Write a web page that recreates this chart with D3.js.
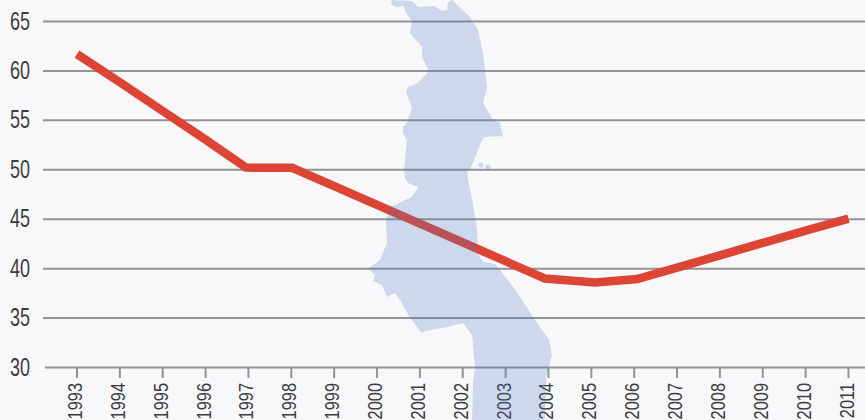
<!DOCTYPE html>
<html><head><meta charset="utf-8">
<script src="https://cdn.jsdelivr.net/npm/d3@7"></script>
<style>html,body{margin:0;padding:0;background:#f8f8fb;overflow:hidden}svg{display:block}
text{font-family:"Liberation Sans",sans-serif;fill:#3c3c40}</style>
</head><body><svg id="c" width="865" height="420"></svg>
<script>
const years=[1993,1994,1995,1996,1997,1998,1999,2000,2001,2002,2003,2004,2005,2006,2007,2008,2009,2010,2011];
const lineYears=[1993,1994,1995,1996,1996.94,1998.02,1999,2000,2001,2002,2003,2003.92,2005.09,2006.07,2007,2008,2009,2010,2011];
const values=[61.7,58.85,55.95,53.05,50.22,50.2,48.35,46.45,44.55,42.65,40.75,39.0,38.6,38.95,40.1,41.35,42.6,43.85,45.05];
const yTicks=[30,35,40,45,50,55,60,65];
// decorative silhouette of the country behind the line (page pixels)
const mapOutline=[[392,0],[391,3],[392,5],[397,7],[403,6],[405,9],[406,13],[412,21],[410,33],[422,47],[422,57],[429,71],[418,83],[408,87],[406,92],[412,108],[407,123],[403,127],[403,133],[407,140],[404,170],[405,178],[408,183],[418,187],[412,197],[390,207],[386,220],[387,243],[380,260],[368,269],[375,275],[373,281],[382,285],[387,297],[395,293],[400,300],[410,318],[422,333],[425,331],[447,327],[463,323],[472,335],[475,367],[473,383],[472,420],[545,420],[546,377],[552,355],[549,340],[533,317],[517,292],[500,270],[495,264],[483,262],[478,253],[477,230],[474,210],[467,173],[472,165],[482,140],[485,137],[503,136],[500,123],[492,118],[483,103],[487,88],[483,53],[478,30],[470,17],[452,0],[448,2],[447,10],[442,11],[435,6],[418,7],[412,1]];
const mapIslands=[[481,165],[488,167]];

const svg=d3.select("#c");
const x=d3.scaleLinear().domain([1993,2011]).range([77,848.5]);
const y=d3.scaleLinear().domain([30,65]).range([367.5,21.5]);

const grid=svg.append("g");
grid.selectAll("line").data(yTicks).join("line")
  .attr("x1",d=>d===30?45:43).attr("x2",865)
  .attr("y1",d=>y(d)).attr("y2",d=>y(d))
  .attr("stroke","#939396").attr("stroke-width",2);

const yAxis=svg.append("g");
yAxis.selectAll("text").data(yTicks).join("text")
  .attr("transform",d=>`translate(30,${y(d)+8}) scale(0.72,1)`)
  .attr("text-anchor","end").attr("font-size",25).text(d=>d);

const xAxis=svg.append("g");
xAxis.selectAll("line").data(years).join("line")
  .attr("x1",d=>x(d)).attr("x2",d=>x(d)).attr("y1",367).attr("y2",378)
  .attr("stroke","#939396").attr("stroke-width",2);
xAxis.selectAll("text").data(years).join("text")
  .attr("transform",d=>`translate(${x(d)+5},383) rotate(-90) scale(0.82,1)`)
  .attr("text-anchor","end").attr("font-size",20).text(d=>d);

const line=d3.line().x((d,i)=>x(lineYears[i])).y(d=>y(d));
svg.append("path").datum(values).attr("d",line).attr("fill","none")
  .attr("stroke","#dc4534").attr("stroke-width",8.5).attr("stroke-linejoin","miter");

const mapG=svg.append("g").attr("fill","rgb(80,120,191)").attr("fill-opacity",0.25);
mapG.append("path").attr("d",d3.line()(mapOutline)+"Z");
mapG.selectAll("circle").data(mapIslands).join("circle")
  .attr("cx",d=>d[0]).attr("cy",d=>d[1]).attr("r",2.6);
</script></body></html>
